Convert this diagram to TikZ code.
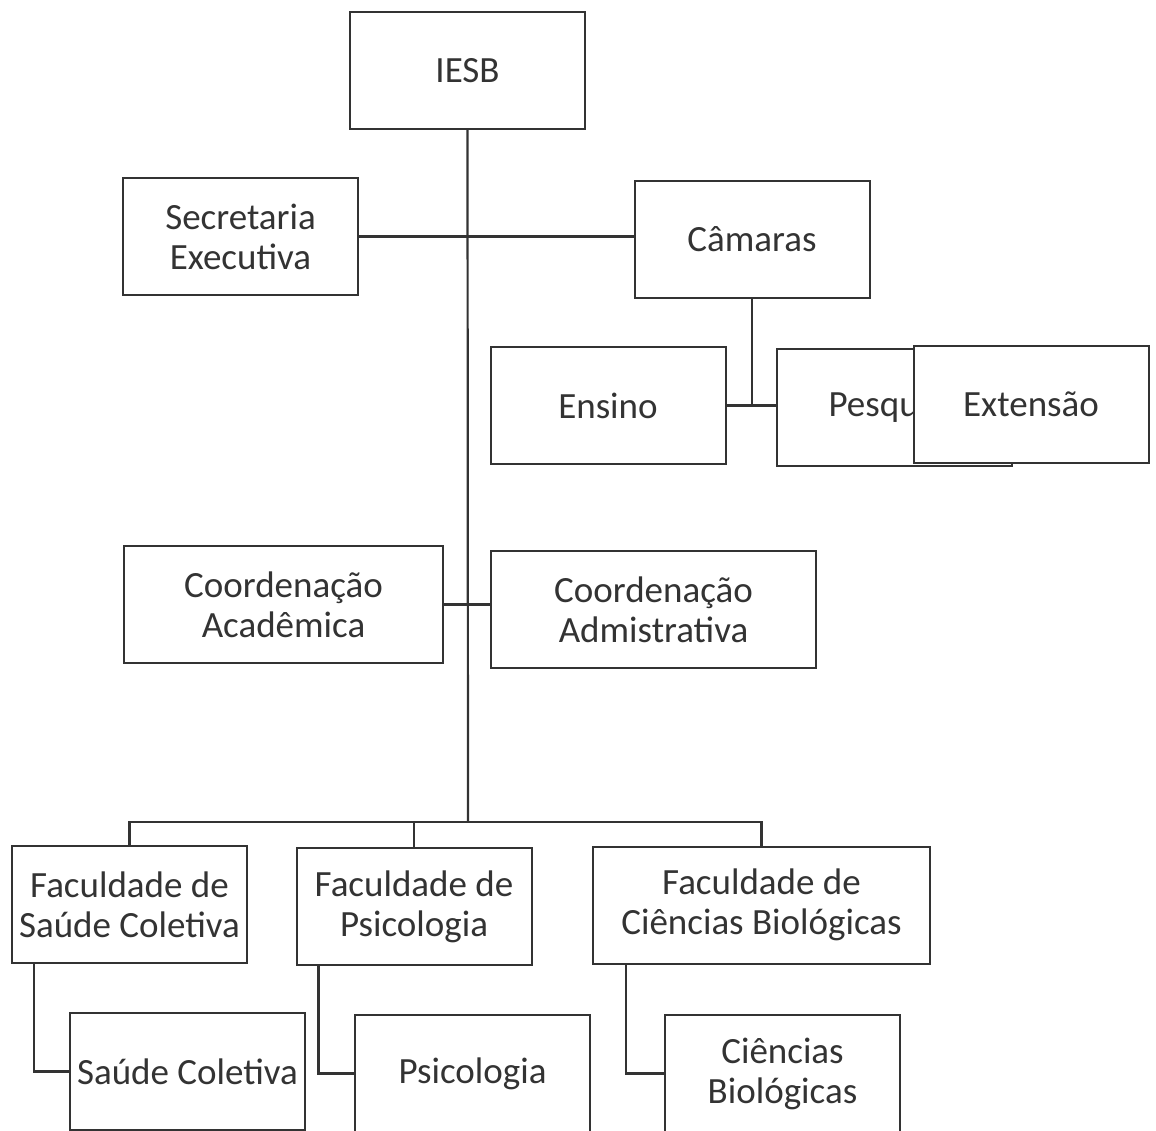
\documentclass[tikz,border=0pt]{standalone}
\usepackage{fontspec}
\setmainfont{Carlito}
\tikzset{
  orgbox/.style={draw=black!80, line width=1pt, fill=white, align=center,
    minimum width=117.5pt, minimum height=58.5pt, inner sep=2pt,
    text=black!80, font=\fontsize{18.5}{20}\selectfont},
  link/.style={draw=black!80, line width=1.1pt}
}
\begin{document}
\begin{tikzpicture}[x=0.5pt,y=-0.5pt]
	\clip (0,0) rectangle (1156,1130);
	\fill[white] (0,0) rectangle (1156,1130);
	\node[orgbox] (iesb) at (467.5,70.5) {IESB};
	\node[orgbox] (secretaria) at (240.5,236.5) {Secretaria\\Executiva};
	\node[orgbox] (camaras) at (752,239) {Câmaras};
	\node[orgbox] (ensino) at (608,405.5) {Ensino};
	\node[orgbox] (pesquisa) at (894,407) {Pesquisa};
	% Extensao lies over Pesquisa
	\node[orgbox] (extensao) at (1031,404) {Extensão};
	\node[orgbox,minimum width=159.5pt] (coordacad) at (283.5,604.5) {Coordenação\\Acadêmica};
	\node[orgbox,minimum width=162.5pt] (coordadm) at (653.5,609.5) {Coordenação\\Admistrativa};
	\node[orgbox] (facsaude) at (129.5,904.5) {Faculdade de\\Saúde Coletiva};
	\node[orgbox] (facpsi) at (414,906.5) {Faculdade de\\Psicologia};
	\node[orgbox,minimum width=168.5pt] (facbio) at (761.5,905) {Faculdade de\\Ciências Biológicas};
	\node[orgbox] (saude) at (187.5,1071.5) {Saúde Coletiva};
	\node[orgbox] (psico) at (472.5,1073.5) {Psicologia};
	\node[orgbox] (bio) at (782.5,1073.5) {Ciências\\Biológicas};
	\coordinate (bus) at (468,822);
	% main trunk
	\draw[link] (iesb.south) -- (bus);
	\draw[link] (secretaria.east) -- (secretaria.east -| camaras.west);
	\draw[link] (camaras.south) -- (camaras.south |- ensino.east);
	\draw[link] (ensino.east) -- (ensino.east -| pesquisa.west);
	\draw[link] (coordacad.east) -- (coordacad.east -| coordadm.west);
	% faculdades
	\draw[link] (facsaude.north) |- (bus) -| (facbio.north);
	\draw[link] (facpsi.north) -- (facpsi.north |- bus);
	\draw[link] ([xshift=11.5pt]facsaude.south west) |- (saude.west);
	\draw[link] ([xshift=11.5pt]facpsi.south west) |- (psico.west);
	\draw[link] ([xshift=17pt]facbio.south west) |- (bio.west);
\end{tikzpicture}
\end{document}
